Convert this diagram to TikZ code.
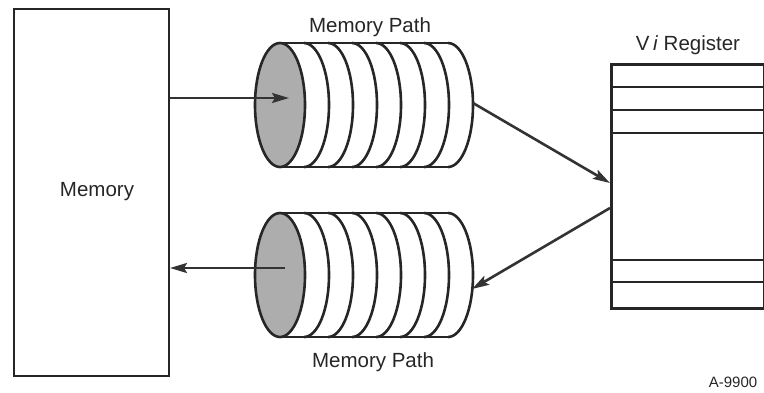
\documentclass[tikz,border=0pt]{standalone}
\usepackage{fontspec}
\setmainfont{Liberation Sans}
\usetikzlibrary{arrows.meta}
\begin{document}
\begin{tikzpicture}[x=1pt,y=-1pt,
  box/.style={draw=black!85, line width=2.8pt},
  lbl/.style={font=\fontsize{20.5}{24}\selectfont, text=black!85, inner sep=0pt},
  conn/.style={draw=black!80, line width=2.6pt, -{Stealth[length=17pt,width=10pt,inset=3pt]}},
  slice/.style={draw=black!85, line width=2.6pt},
  endface/.style={draw=black!85, line width=2.6pt, fill=black!32}]
\useasboundingbox (0,0) rectangle (764,392);
% Memory
\node[box, minimum width=155pt, minimum height=367pt, inner sep=0pt] (mem) at (91.5,192.5) {};
\node[lbl] (memlbl) at (97,192) {Memory};
% Register
\node[box, minimum width=153pt, minimum height=244pt, inner sep=0pt, anchor=north west] (reg) at (610,63) {};
\foreach \yy in {87,110,133,260,282}{
  \draw[slice] (610,\yy) -- (763,\yy);
}
\node[lbl] (reglbl) at (688,45) {V\,\textit{i} Register};
% Cylinders
\foreach \cy/\nm in {105/top,275/bot}{
  \fill[white] (280,\cy-62) rectangle (448,\cy+62);
  \fill[white] (448,\cy-62) arc[start angle=-90,end angle=90,x radius=25,y radius=62];
  \foreach \k in {7,6,...,1}{
    \draw[slice] (280+24*\k,\cy-62) arc[start angle=-90,end angle=90,x radius=25,y radius=62];
  }
  \draw[slice] (280,\cy-62) -- (448,\cy-62);
  \draw[slice] (280,\cy+62) -- (448,\cy+62);
  \draw[endface] (280,\cy) ellipse[x radius=25,y radius=62];
  \coordinate (\nm front) at (289,\cy-7);
  \coordinate (\nm back) at (473,\cy-2);
}
\coordinate (botfrontstart) at (285,268);
\node[lbl] (toplbl) at (370,27) {Memory Path};
\node[lbl] (botlbl) at (373,362) {Memory Path};
\node[font=\fontsize{15}{18}\selectfont, text=black!85, inner sep=0pt] (fig) at (733,382) {A-9900};
% Connectors
\coordinate (memout) at (170,98);
\coordinate (memin) at (170,268);
\coordinate (regin) at (610,183);
\coordinate (regout) at (610,208);
\coordinate (botback2) at (472,289);
\draw[conn] (memout) -- (topfront);
\draw[conn] (botfrontstart) -- (memin);
\draw[conn] (topback) -- (regin);
\draw[conn] (regout) -- (botback2);
\end{tikzpicture}
\end{document}
